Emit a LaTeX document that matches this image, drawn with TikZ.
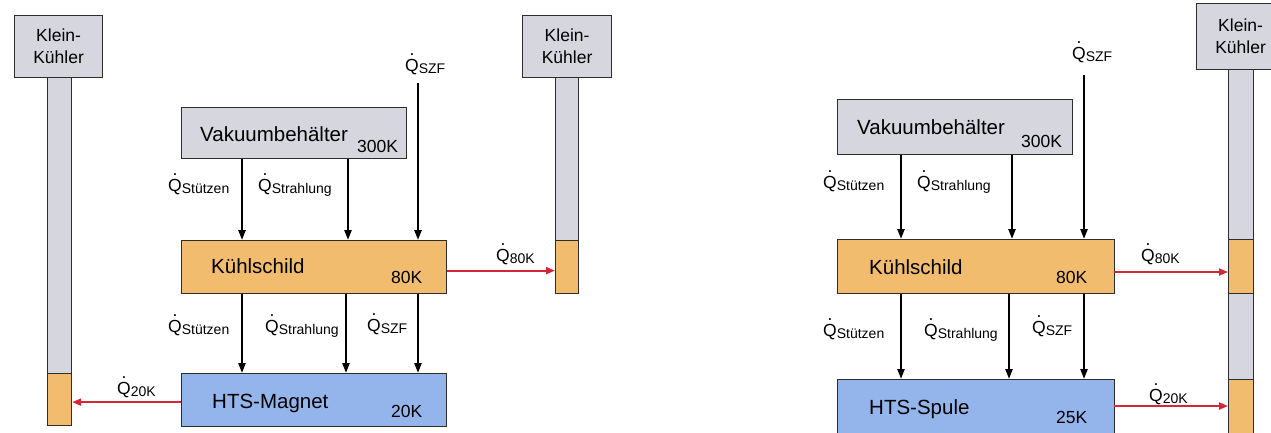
\documentclass[tikz,border=0pt]{standalone}
\usepackage{fontspec}
\setmainfont{Liberation Sans}
\usetikzlibrary{arrows.meta}
\definecolor{boxgray}{RGB}{214,215,222}
\definecolor{boxorange}{RGB}{242,188,110}
\definecolor{boxblue}{RGB}{148,180,236}
\definecolor{heatred}{RGB}{212,38,52}
\definecolor{edge}{RGB}{45,45,45}
\newcommand\qdot[1]{\mbox{\ooalign{Q\cr\hidewidth\raisebox{0.88em}{.}\hidewidth\cr}}{\fontsize{14}{15}\selectfont\raisebox{-2.5pt}{#1}}}
\begin{document}
\begin{tikzpicture}[x=1pt,y=-1pt,
  box/.style={draw=edge, line width=1.2pt, inner sep=0pt, anchor=north west},
  graybox/.style={box, fill=boxgray},
  orangebox/.style={box, fill=boxorange},
  bluebox/.style={box, fill=boxblue},
  coolerbox/.style={graybox, align=center, font=\fontsize{17.5}{22}\selectfont},
  big/.style={anchor=base west, inner sep=0pt, font=\fontsize{20.5}{24}\selectfont},
  temp/.style={anchor=base west, inner sep=0pt, font=\fontsize{17.5}{20}\selectfont},
  qlbl/.style={anchor=base west, inner sep=0pt, font=\fontsize{17.5}{20}\selectfont},
  arr/.style={line width=2.2pt, black, -{Triangle[length=10pt,width=7pt]}},
  redarr/.style={line width=2pt, heatred, -{Triangle[length=9pt,width=7pt]}}]
\clip (0,0) rectangle (1271,432);
\fill[white] (0,0) rectangle (1271,432);

% ---------- left diagram ----------
% cooler A
\node[graybox, minimum width=24pt, minimum height=348pt] (colA) at (47,77) {};
\node[orangebox, minimum width=24pt, minimum height=52pt] (colAo) at (47,373) {};
\node[coolerbox, minimum width=88pt, minimum height=62pt] (coolA) at (14,15) {Klein-\\Kühler};
% cooler B
\node[graybox, minimum width=23pt, minimum height=216pt] (colB) at (555,77) {};
\node[orangebox, minimum width=23pt, minimum height=53pt] (colBo) at (555,240) {};
\node[coolerbox, minimum width=89pt, minimum height=62pt] (coolB) at (522,15) {Klein-\\Kühler};

\node[graybox, minimum width=225pt, minimum height=51pt] (vakL) at (181,107) {};
\node[orangebox, minimum width=265pt, minimum height=53pt] (ksL) at (181,240) {};
\node[bluebox, minimum width=265pt, minimum height=53pt] (htsL) at (181,373) {};

\node[big] (tvakL) at (200,141) {Vakuumbehälter};
\node[temp] (t300L) at (357,152) {300K};
\node[big] (tksL) at (211,273) {Kühlschild};
\node[temp] (t80L) at (391,283) {80K};
\node[big] (thtsL) at (212,408) {HTS-Magnet};
\node[temp] (t20L) at (391,417) {20K};

\coordinate (szfL) at (418,83);
\draw[arr] ([xshift=61pt]vakL.south west) -- ([xshift=61pt]ksL.north west);
\draw[arr] ([xshift=167pt]vakL.south west) -- ([xshift=167pt]ksL.north west);
\draw[arr] (szfL) -- (szfL |- ksL.north);
\draw[arr] ([xshift=61pt]ksL.south west) -- ([xshift=61pt]htsL.north west);
\draw[arr] ([xshift=165pt]ksL.south west) -- ([xshift=165pt]htsL.north west);
\draw[arr] ([xshift=237pt]ksL.south west) -- ([xshift=237pt]htsL.north west);
\draw[redarr] ([yshift=-2pt]htsL.west) -- ([yshift=-2pt]htsL.west -| colAo.east);
\draw[redarr] ([yshift=-3.5pt]ksL.east) -- ([yshift=-3.5pt]ksL.east -| colBo.west);

\node[qlbl] (q1L) at (405,71) {\qdot{SZF}};
\node[qlbl] (q2L) at (168,191) {\qdot{Stützen}};
\node[qlbl] (q3L) at (258,191) {\qdot{Strahlung}};
\node[qlbl] (q4L) at (168,332) {\qdot{Stützen}};
\node[qlbl] (q5L) at (265,332) {\qdot{Strahlung}};
\node[qlbl] (q6L) at (367,331) {\qdot{SZF}};
\node[qlbl] (q7L) at (117,394) {\qdot{20K}};
\node[qlbl] (q8L) at (496,261) {\qdot{80K}};

% ---------- right diagram ----------
\node[graybox, minimum width=25pt, minimum height=380pt] (colC) at (1228,69) {};
\node[orangebox, minimum width=25pt, minimum height=54pt] (colCo1) at (1228,239) {};
\node[orangebox, minimum width=25pt, minimum height=60pt] (colCo2) at (1228,379) {};
\node[coolerbox, minimum width=88pt, minimum height=66pt] (coolC) at (1196,3) {Klein-\\Kühler};

\node[graybox, minimum width=235pt, minimum height=55pt] (vakR) at (837,99) {};
\node[orangebox, minimum width=277pt, minimum height=54pt] (ksR) at (837,239) {};
\node[bluebox, minimum width=277pt, minimum height=62pt] (htsR) at (837,379) {};

\node[big] (tvakR) at (857,134) {Vakuumbehälter};
\node[temp] (t300R) at (1021,147) {300K};
\node[big] (tksR) at (869,274) {Kühlschild};
\node[temp] (t80R) at (1056,283) {80K};
\node[big] (thtsR) at (869,414) {HTS-Spule};
\node[temp] (t25R) at (1056,423) {25K};

\coordinate (szfR) at (1084,75);
\draw[arr] ([xshift=64pt]vakR.south west) -- ([xshift=64pt]ksR.north west);
\draw[arr] ([xshift=175pt]vakR.south west) -- ([xshift=175pt]ksR.north west);
\draw[arr] (szfR) -- (szfR |- ksR.north);
\draw[arr] ([xshift=64pt]ksR.south west) -- ([xshift=64pt]htsR.north west);
\draw[arr] ([xshift=172pt]ksR.south west) -- ([xshift=172pt]htsR.north west);
\draw[arr] ([xshift=247pt]ksR.south west) -- ([xshift=247pt]htsR.north west);
\coordinate (r80) at (1114,272);
\coordinate (r20) at (1114,406);
\draw[redarr] (r80) -- (r80 -| colC.west);
\draw[redarr] (r20) -- (r20 -| colC.west);

\node[qlbl] (q1R) at (1072,59) {\qdot{SZF}};
\node[qlbl] (q2R) at (823,188) {\qdot{Stützen}};
\node[qlbl] (q3R) at (917,188) {\qdot{Strahlung}};
\node[qlbl] (q4R) at (823,336) {\qdot{Stützen}};
\node[qlbl] (q5R) at (924,336) {\qdot{Strahlung}};
\node[qlbl] (q6R) at (1032,333) {\qdot{SZF}};
\node[qlbl] (q7R) at (1141,261) {\qdot{80K}};
\node[qlbl] (q8R) at (1149,401) {\qdot{20K}};
\end{tikzpicture}
\end{document}
